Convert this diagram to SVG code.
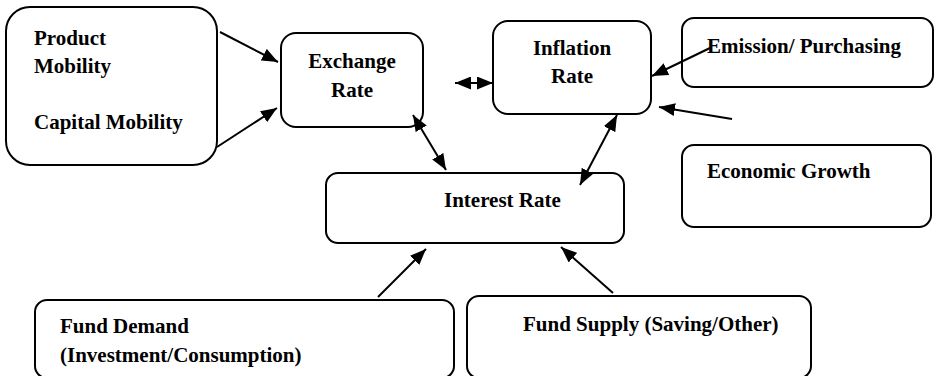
<svg xmlns="http://www.w3.org/2000/svg" width="936" height="376" viewBox="0 0 936 376">
<style>
.box{fill:#fff;stroke:#000;stroke-width:2}
.t{font-family:"Liberation Serif","Times New Roman",serif;font-weight:bold;font-size:21px;fill:#000}
.c{fill:none;stroke:#000;stroke-width:2}
</style>
<defs>
<marker id="ah" viewBox="0 0 16 13" markerWidth="16" markerHeight="13" refX="16" refY="6.5" orient="auto-start-reverse" markerUnits="userSpaceOnUse">
<path d="M0,0 L16,6.5 L0,13 z" fill="#000"/>
</marker>
</defs>
<rect width="936" height="376" fill="#fff"/>
<g id="mobility">
<rect class="box" x="6" y="7" width="211" height="158" rx="24"/>
<text class="t" x="34" y="45">Product</text>
<text class="t" x="34" y="73">Mobility</text>
<text class="t" x="34" y="129">Capital Mobility</text>
</g>
<g id="exchange">
<rect class="box" x="281" y="33" width="142" height="94" rx="15"/>
<text class="t" x="352" y="68" text-anchor="middle">Exchange</text>
<text class="t" x="352" y="97" text-anchor="middle">Rate</text>
</g>
<g id="inflation">
<rect class="box" x="493" y="21" width="158" height="93" rx="15"/>
<text class="t" x="572" y="55" text-anchor="middle">Inflation</text>
<text class="t" x="572" y="83" text-anchor="middle">Rate</text>
</g>
<g id="emission">
<rect class="box" x="682" y="18" width="251" height="69" rx="12"/>
<text class="t" x="707" y="53">Emission/ Purchasing</text>
</g>
<g id="growth">
<rect class="box" x="682" y="145" width="249" height="82" rx="12"/>
<text class="t" x="707" y="178">Economic Growth</text>
</g>
<g id="interest">
<rect class="box" x="326" y="173" width="298" height="70" rx="12"/>
<text class="t" x="444" y="207">Interest Rate</text>
</g>
<g id="demand">
<rect class="box" x="35" y="300" width="419" height="78" rx="12"/>
<text class="t" x="60" y="333">Fund Demand</text>
<text class="t" x="60" y="362">(Investment/Consumption)</text>
</g>
<g id="supply">
<rect class="box" x="467" y="296" width="344" height="82" rx="12"/>
<text class="t" x="523" y="331">Fund Supply (Saving/Other)</text>
</g>
<g id="connectors">
<line class="c" x1="220" y1="32" x2="278" y2="62" marker-end="url(#ah)"/>
<line class="c" x1="217" y1="147" x2="277" y2="108" marker-end="url(#ah)"/>
<line class="c" x1="455" y1="83" x2="493" y2="83" marker-start="url(#ah)" marker-end="url(#ah)"/>
<line class="c" x1="413" y1="115" x2="446" y2="170" marker-start="url(#ah)" marker-end="url(#ah)"/>
<line class="c" x1="617" y1="115" x2="580" y2="185" marker-start="url(#ah)" marker-end="url(#ah)"/>
<line class="c" x1="710" y1="48" x2="652" y2="76" marker-end="url(#ah)"/>
<line class="c" x1="732" y1="119" x2="659" y2="107" marker-end="url(#ah)"/>
<line class="c" x1="378" y1="297" x2="426" y2="249" marker-end="url(#ah)"/>
<line class="c" x1="613" y1="293" x2="561" y2="247" marker-end="url(#ah)"/>
</g>
</svg>
